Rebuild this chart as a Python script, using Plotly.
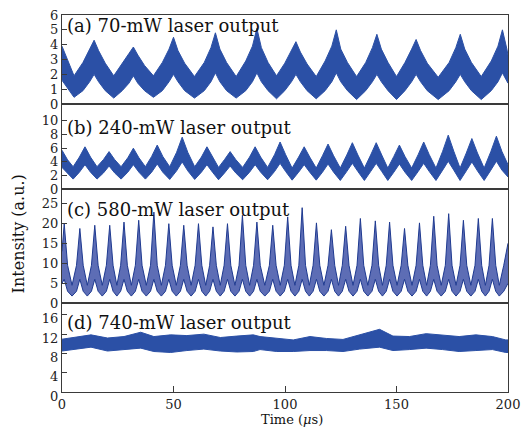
import plotly.graph_objects as go
from plotly.subplots import make_subplots

# ---------------- data (envelopes) ----------------
# (a) 70 mW
a_time = [0, 3, 5.4, 9.4, 12.4, 14.4, 16.4, 19.4, 23.2, 27, 30, 32, 34, 37, 41,
          45, 48, 50, 52, 55, 59.4, 63.8, 66.8, 68.8, 70.8, 73.8, 78.1, 82.4, 85.4,
          87.4, 89.4, 92.4, 96.2, 99.9, 102.9, 104.9, 106.9, 109.9, 114, 118, 121,
          123, 125, 128, 132.1, 136.2, 139.2, 141.2, 143.2, 146.2, 150, 153.8, 156.8,
          158.8, 160.8, 163.8, 168.7, 173.6, 176.6, 178.6, 180.6, 183.6, 188, 192.5,
          195.5, 197.5, 199.5, 200]
a_upper = [3.9, 2.8, 1.9, 2.8, 3.7, 4.3, 3.6, 2.75, 1.9, 2.7, 3.4, 3.84, 3.3, 2.6, 1.9,
           2.8, 3.7, 4.5, 3.6, 2.75, 1.85, 2.8, 3.8, 4.8, 3.7, 2.8, 1.85, 2.9, 3.9,
           5.1, 3.8, 2.8, 1.9, 2.75, 3.6, 4.2, 3.5, 2.7, 1.85, 2.9, 3.9,
           5.0, 3.7, 2.8, 1.85, 2.8, 3.8, 4.7, 3.7, 2.8, 1.85, 2.8, 3.7,
           4.35, 3.6, 2.75, 1.8, 2.8, 3.8, 4.7, 3.7, 2.8, 1.85, 2.9,
           3.9, 5.0, 3.7, 3.3]
a_lower = [1.6, 1.0, 0.45, 0.9, 1.5, 2.0, 1.5, 0.9, 0.4, 0.9, 1.4, 1.9, 1.4, 0.9, 0.45,
           0.9, 1.5, 2.0, 1.5, 0.9, 0.4, 0.9, 1.5, 2.1, 1.5, 0.9, 0.4, 0.9, 1.5,
           2.1, 1.5, 0.9, 0.35, 0.9, 1.5, 2.0, 1.5, 0.9, 0.35, 0.9, 1.5,
           2.1, 1.5, 0.9, 0.3, 0.9, 1.5, 2.0, 1.5, 0.9, 0.3, 0.9, 1.5,
           2.0, 1.5, 0.9, 0.3, 0.9, 1.5, 2.0, 1.5, 0.9, 0.3, 0.9,
           1.5, 2.1, 1.6, 1.4]

# (b) 240 mW
b_time = [0, 2.5, 5.0,
          7.8, 10.3, 12.8, 15.7, 18.6, 21.1, 23.6, 26.5, 29.5, 32, 34.5, 37.4,
          40.2, 42.7, 45.2, 48.3, 51.4, 53.9, 56.4, 59.5, 62.5, 65, 67.5, 70.2,
          72.9, 75.4, 77.9, 81, 84.1, 86.6, 89.1, 92.2, 95.3, 97.8, 100.3, 103.2,
          106.1, 108.6, 111.1, 114, 116.8, 119.3, 121.8, 124.8, 127.7, 130.2, 132.7, 135.6,
          138.4, 140.9, 143.4, 146.1, 148.8, 151.3, 153.8, 156.8, 159.7, 162.2, 164.7, 167.7,
          170.7, 173.2, 175.7, 178.5, 181.3, 183.8, 186.3, 189.3, 192.3, 194.8, 197.3, 200]
b_upper = [5.7, 4.3, 3.3,
           4.7, 6.2, 4.7, 3.3, 4.35, 5.5, 4.35, 3.3, 4.6, 6.0, 4.6, 3.3,
           4.8, 6.45, 4.8, 3.3, 5.4, 7.6, 5.4, 3.3, 4.7, 6.2, 4.7, 3.2,
           4.35, 5.5, 4.35, 3.2, 4.7, 6.2, 4.7, 3.2, 5.05, 6.9, 5.05, 3.1,
           4.7, 6.2, 4.7, 3.1, 4.9, 6.6, 4.9, 3.1, 5.0, 6.8, 5.0, 3.1,
           5.0, 6.8, 5.0, 3.1, 4.8, 6.45, 4.8, 3.1, 5.05, 6.9, 5.05, 3.1,
           5.55, 7.9, 5.55, 3.1, 5.3, 7.4, 5.3, 3.1, 5.5, 7.75, 5.5, 3.6]
b_lower = [3.2, 2.3, 1.5,
           2.5, 3.6, 2.5, 1.5, 2.4, 3.4, 2.4, 1.5, 2.5, 3.6, 2.5, 1.5,
           2.5, 3.7, 2.5, 1.45, 2.7, 4.0, 2.7, 1.45, 2.5, 3.6, 2.5, 1.4,
           2.4, 3.4, 2.4, 1.4, 2.5, 3.6, 2.5, 1.4, 2.6, 3.8, 2.6, 1.35,
           2.5, 3.6, 2.5, 1.35, 2.5, 3.7, 2.5, 1.3, 2.6, 3.8, 2.6, 1.3,
           2.6, 3.8, 2.6, 1.3, 2.5, 3.7, 2.5, 1.3, 2.6, 3.8, 2.6, 1.3,
           2.8, 4.1, 2.8, 1.3, 2.7, 4.0, 2.7, 1.3, 2.8, 4.1, 2.8, 1.8]

# (c) 580 mW
c_time = [0, 1.0, 2.5, 4.5,
          6.5, 8.0, 9.5, 11.35, 13.2, 14.7, 16.2, 18.05, 19.9, 21.4, 22.9, 24.6,
          26.3, 27.8, 29.3, 31.1, 32.9, 34.4, 35.9, 37.8, 39.7, 41.2, 42.7, 44.55,
          46.4, 47.9, 49.4, 51.25, 53.1, 54.6, 56.1, 57.9, 59.7, 61.2, 62.7, 64.45,
          66.2, 67.7, 69.2, 70.95, 72.7, 74.2, 75.7, 77.55, 79.4, 80.9, 82.4, 84.15,
          85.9, 87.4, 88.9, 90.95, 93.0, 94.5, 96.0, 97.85, 99.7, 101.2, 102.7, 104.45,
          106.2, 107.7, 109.2, 110.9, 112.6, 114.1, 115.6, 117.45, 119.3, 120.8, 122.3, 124.0,
          125.7, 127.2, 128.7, 130.5, 132.3, 133.8, 135.3, 137.15, 139.0, 140.5, 142.0, 143.7,
          145.4, 146.9, 148.4, 150.25, 152.1, 153.6, 155.1, 156.95, 158.8, 160.3, 161.8, 163.5,
          165.2, 166.7, 168.2, 170.05, 171.9, 173.4, 174.9, 176.7, 178.5, 180.0, 181.5, 183.35,
          185.2, 186.7, 188.2, 189.85, 191.5, 193.0, 194.5, 196.1, 198.1, 200]
c_upper = [13.0, 19.9, 9.5, 4.5,
           9.5, 18.7, 9.5, 4.5, 9.5, 19.5, 9.5, 4.5, 9.5, 19.5, 9.5, 4.5,
           9.5, 20.3, 9.5, 4.5, 9.5, 20.75, 9.5, 4.5, 9.5, 22.8, 9.5, 4.5,
           9.5, 19.9, 9.5, 4.5, 9.5, 19.5, 9.5, 4.5, 9.5, 19.9, 9.5, 4.5,
           9.5, 19.1, 9.5, 4.5, 9.5, 19.9, 9.5, 4.5, 9.5, 22.0, 9.5, 4.5,
           9.5, 20.3, 9.5, 4.5, 9.5, 19.5, 9.5, 4.5, 9.5, 21.6, 9.5, 4.5,
           9.5, 23.9, 9.5, 4.5, 9.5, 20.1, 9.5, 4.5, 9.5, 18.4, 9.5, 4.5,
           9.5, 19.25, 9.5, 4.5, 9.5, 21.2, 9.5, 4.5, 9.5, 20.6, 9.5, 4.5,
           9.5, 20.3, 9.5, 4.5, 9.5, 18.7, 9.5, 4.5, 9.5, 20.1, 9.5, 4.5,
           9.5, 21.75, 9.5, 4.5, 9.5, 22.4, 9.5, 4.5, 9.5, 20.75, 9.5, 4.5,
           9.5, 21.2, 9.5, 4.5, 9.5, 21.2, 9.5, 4.5, 9.5, 15.0]
c_lower = [5.0, 6.0, 3.0, 1.8,
           3.0, 6.0, 3.0, 1.8, 3.0, 6.0, 3.0, 1.8, 3.0, 6.0, 3.0, 1.8,
           3.0, 6.0, 3.0, 1.8, 3.0, 6.0, 3.0, 1.8, 3.0, 6.0, 3.0, 1.8,
           3.0, 6.0, 3.0, 1.8, 3.0, 6.0, 3.0, 1.8, 3.0, 6.0, 3.0, 1.8,
           3.0, 6.0, 3.0, 1.8, 3.0, 6.0, 3.0, 1.8, 3.0, 6.0, 3.0, 1.8,
           3.0, 6.0, 3.0, 1.8, 3.0, 6.0, 3.0, 1.8, 3.0, 6.0, 3.0, 1.8,
           3.0, 6.0, 3.0, 1.8, 3.0, 6.0, 3.0, 1.8, 3.0, 6.0, 3.0, 1.8,
           3.0, 6.0, 3.0, 1.8, 3.0, 6.0, 3.0, 1.8, 3.0, 6.0, 3.0, 1.8,
           3.0, 6.0, 3.0, 1.8, 3.0, 6.0, 3.0, 1.8, 3.0, 6.0, 3.0, 1.8,
           3.0, 6.0, 3.0, 1.8, 3.0, 6.0, 3.0, 1.8, 3.0, 6.0, 3.0, 1.8,
           3.0, 6.0, 3.0, 1.8, 3.0, 6.0, 3.0, 1.8, 3.0, 5.0]

# (d) 740 mW
d_time = [0, 7, 13, 20.4, 27.8, 35.3, 41.2, 48.7, 56, 63.6, 71, 78.4, 85.8, 88.8, 96.3,
          103.7, 111.2, 118.6, 126, 133.5, 142.4, 148.4, 155.8, 163.3, 170.7, 178.1,
          185.6, 193, 199, 200]
d_upper = [10.95, 11.5, 11.85, 11.2, 11.5, 12.4, 11.5, 11.85, 11.7, 12.0, 11.3, 11.6,
           11.85, 11.5, 11.2, 10.8, 11.5, 11.1, 10.9, 11.85, 13.0, 11.6, 11.5, 12.1,
           11.85, 11.5, 11.85, 11.5, 10.8, 10.8]
d_lower = [8.5, 8.9, 9.3, 8.5, 8.8, 9.1, 8.4, 8.2, 8.6, 8.9, 8.5, 8.3, 8.4, 8.8, 8.4,
           8.4, 8.6, 8.6, 8.4, 8.9, 9.3, 8.6, 8.8, 9.1, 8.8, 8.4, 8.6, 8.8, 8.2, 8.2]

panel_titles = ["(a) 70-mW laser output", "(b) 240-mW laser output",
                "(c) 580-mW laser output", "(d) 740-mW laser output"]
y_ranges = [[0, 6], [0, 12.43], [0, 28.47], [0, 18.4]]
y_ticks = [[0, 1, 2, 3, 4, 5, 6], [0, 2, 4, 6, 8, 10], [0, 5, 10, 15, 20, 25], [0, 4, 8, 12, 16]]
x_ticks = [0, 50, 100, 150, 200]

# ---------------- figure ----------------
FONT = "DejaVu Serif"
BLUE = "#2b50a6"
DARK = "#1f3a90"
MID = "#5d6db5"
AX = "#3a3a3a"

fig = make_subplots(rows=4, cols=1, shared_xaxes=True, vertical_spacing=0)

series = [(a_time, a_upper, a_lower), (b_time, b_upper, b_lower),
          (c_time, c_upper, c_lower), (d_time, d_upper, d_lower)]
for i, (t, up, lo) in enumerate(series):
    r = i + 1
    line_col = DARK if i == 2 else BLUE
    fill_col = MID if i == 2 else BLUE
    fig.add_trace(go.Scatter(x=t, y=lo, mode="lines", line=dict(color=line_col, width=1),
                             showlegend=False, hoverinfo="skip"), row=r, col=1)
    fig.add_trace(go.Scatter(x=t, y=up, mode="lines", line=dict(color=line_col, width=1),
                             fill="tonexty", fillcolor=fill_col,
                             showlegend=False, hoverinfo="skip"), row=r, col=1)

# domains (fractions of plot height, bottom = 0)
domains = [[0.7639, 1.0], [0.5374, 0.7639], [0.2353, 0.5374], [0.0, 0.2353]]
title_y = [0.9721, 0.7016, 0.4841, 0.1844]
label_shift = [0, 0, 0, 4]

for i in range(4):
    r = i + 1
    fig.update_yaxes(row=r, col=1, domain=domains[i], range=y_ranges[i],
                     tickvals=y_ticks[i], ticks="inside", ticklen=5, tickwidth=1,
                     tickcolor=AX, showline=True, linecolor=AX, linewidth=1.2,
                     mirror=True, showgrid=False, zeroline=False, automargin=False,
                     ticklabelshift=label_shift[i],
                     tickfont=dict(family=FONT, size=13, color="#222"))
    fig.update_xaxes(row=r, col=1, range=[0, 200], showline=True, linecolor=AX,
                     linewidth=1.2, mirror=True, showgrid=False, zeroline=False,
                     ticks="" if r < 4 else "inside", showticklabels=(r == 4),
                     tickvals=x_ticks, ticklen=6, tickwidth=1, tickcolor=AX,
                     automargin=False, ticklabeloverflow="allow",
                     tickfont=dict(family=FONT, size=13, color="#222"))
    fig.add_annotation(xref="paper", yref="paper", x=0.006, y=title_y[i],
                       xanchor="left", yanchor="middle", showarrow=False,
                       text=panel_titles[i], font=dict(family=FONT, size=18, color="#111"))

# x-axis title
fig.add_annotation(xref="paper", yref="paper", x=0.515, y=-0.073, xanchor="center",
                   yanchor="middle", showarrow=False, text="Time (<i>μ</i>s)",
                   font=dict(family=FONT, size=13, color="#111"))
# y-axis title
fig.add_annotation(xref="paper", yref="paper", x=-0.097, y=0.42, xanchor="center",
                   yanchor="middle", textangle=-90, showarrow=False,
                   text="Intensity (a.u.)", font=dict(family=FONT, size=16, color="#111"))

fig.update_layout(width=521, height=427, margin=dict(l=61.5, r=12.5, t=15, b=35),
                  plot_bgcolor="white", paper_bgcolor="white")

fig.write_html("out.html", config={"displayModeBar": False},
               post_script="document.body.style.margin='0';document.body.style.padding='0';")
